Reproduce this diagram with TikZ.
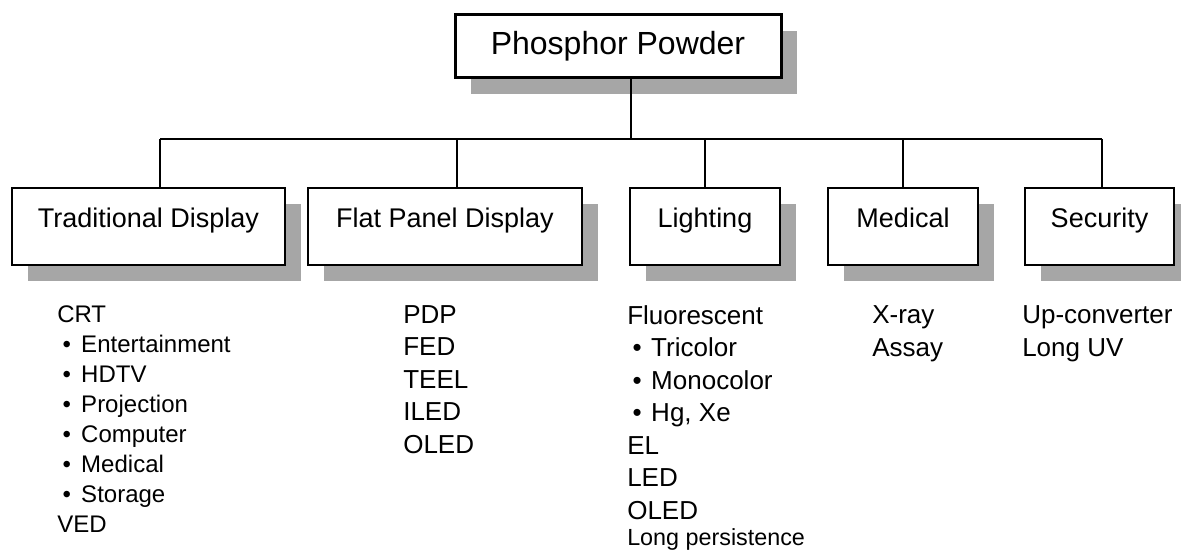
\documentclass[tikz,border=0pt]{standalone}
\usepackage{fontspec}
\setmainfont{Liberation Sans}
\usetikzlibrary{shadows}

\tikzset{
  boxshadow/.style={drop shadow={shadow xshift=12pt,shadow yshift=-12pt,fill=black!35,opacity=1}},
  rootbox/.style={draw,line width=2.25pt,fill=white,inner sep=0pt,
    minimum width=244.5pt,minimum height=47.25pt,font=\fontsize{24}{28}\selectfont,boxshadow},
  catbox/.style={draw,line width=1.5pt,fill=white,inner sep=0pt,
    text height=30pt,text depth=27.75pt,font=\fontsize{20.25}{24}\selectfont,boxshadow},
  itemlist/.style={anchor=north west,inner sep=0pt,align=left},
  link/.style={line width=1.2pt}
}
\newcommand{\itm}[1]{\makebox[18pt][l]{\hspace{4pt}\textbullet}#1}

\begin{document}
\begin{tikzpicture}[x=0.75pt,y=-0.75pt]
        \useasboundingbox (0,0) rectangle (1181,552);

        \node[rootbox] (Powder) at (618,46.5) {Phosphor Powder};

        \node[catbox,minimum width=204.75pt] (Trad) at (148.5,226.5) {Traditional Display};
        \node[catbox,minimum width=205.5pt] (Flat) at (445,226.5) {Flat Panel Display};
        \node[catbox,minimum width=112.5pt] (Light) at (705,226.5) {Lighting};
        \node[catbox,minimum width=112.5pt] (Med) at (903,226.5) {Medical};
        \node[catbox,minimum width=111.75pt] (Sec) at (1099.5,226.5) {Security};

        % bus line
        \coordinate (hub) at (631,139);
        \coordinate (j1) at (160,139);
        \coordinate (j2) at (457,139);
        \coordinate (j3) at (705,139);
        \coordinate (j4) at (903,139);
        \coordinate (j5) at (1102,139);

        \draw[link] (Powder.south -| hub) -- (hub);
        \draw[link] (j1) -- (j5);
        \foreach \j/\b in {j1/Trad,j2/Flat,j3/Light,j4/Med,j5/Sec}
          \draw[link] (\j) -- (\j |- \b.north);

        % lists under the boxes
        \node[itemlist,font=\fontsize{18}{22.5}\selectfont] (TradList) at (57,305)
          {CRT\\\itm{Entertainment}\\\itm{HDTV}\\\itm{Projection}\\\itm{Computer}\\\itm{Medical}\\\itm{Storage}\\VED};
        \node[itemlist,font=\fontsize{19.5}{24.4}\selectfont] (FlatList) at (403,305)
          {PDP\\FED\\TEEL\\ILED\\OLED};
        \node[itemlist,font=\fontsize{19.5}{24.4}\selectfont] (LightList) at (627,305)
          {Fluorescent\\\itm{Tricolor}\\\itm{Monocolor}\\\itm{Hg, Xe}\\EL\\LED\\OLED\\[-4.5pt]{\fontsize{17.5}{20}\selectfont Long persistence}};
        \node[itemlist,font=\fontsize{19.5}{24.75}\selectfont] (MedList) at (872,305)
          {X-ray\\Assay};
        \node[itemlist,font=\fontsize{19.5}{24.75}\selectfont] (SecList) at (1022,305)
          {Up-converter\\Long UV};
\end{tikzpicture}
\end{document}
